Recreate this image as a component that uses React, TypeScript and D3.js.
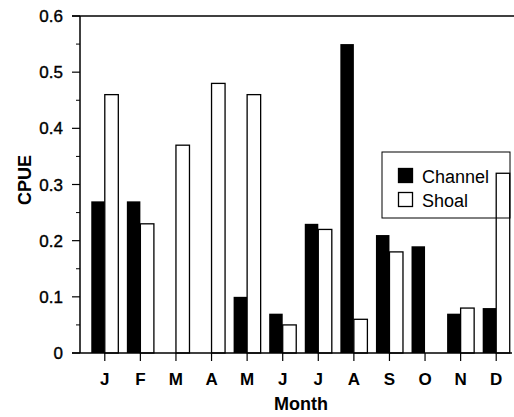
import { useEffect, useRef } from "react";
import * as d3 from "d3";

const months = ["J", "F", "M", "A", "M", "J", "J", "A", "S", "O", "N", "D"];
const channel = [0.27, 0.27, 0, 0, 0.1, 0.07, 0.23, 0.55, 0.21, 0.19, 0.07, 0.08];
const shoal = [0.46, 0.23, 0.37, 0.48, 0.46, 0.05, 0.22, 0.06, 0.18, 0, 0.08, 0.32];
const yTicks = [0, 0.1, 0.2, 0.3, 0.4, 0.5, 0.6];

const width = 514;
const height = 417;
const font = "Liberation Sans, Arial, sans-serif";

export default function App() {
  const ref = useRef<HTMLDivElement | null>(null);

  useEffect(() => {
    if (!ref.current) return;
    d3.select(ref.current).selectAll("svg").remove();

    const svg = d3
      .select(ref.current)
      .append("svg")
      .attr("width", width)
      .attr("height", height)
      .style("display", "block");

    const left = 80;
    const y = d3.scaleLinear([0, 0.6], [353, 16]);
    const x = d3
      .scaleBand<number>()
      .domain(d3.range(months.length))
      .range([87, 514])
      .paddingInner(0.24)
      .paddingOuter(0.12);
    const half = x.bandwidth() / 2;

    // frame: left axis and top line
    svg
      .append("line")
      .attr("x1", left)
      .attr("x2", left)
      .attr("y1", y(0.6))
      .attr("y2", y(0))
      .attr("stroke", "#000")
      .attr("stroke-width", 1.5);
    svg
      .append("line")
      .attr("x1", left - 8)
      .attr("x2", width)
      .attr("y1", y(0.6))
      .attr("y2", y(0.6))
      .attr("stroke", "#000")
      .attr("stroke-width", 1.5);

    // y ticks
    const yg = svg.append("g");
    yg.selectAll("line.major")
      .data(yTicks)
      .enter()
      .append("line")
      .attr("x1", left - 8)
      .attr("x2", left)
      .attr("y1", (d) => y(d))
      .attr("y2", (d) => y(d))
      .attr("stroke", "#000")
      .attr("stroke-width", 1.2);
    yg.selectAll("line.minor")
      .data(yTicks.slice(0, -1).map((d) => d + 0.05))
      .enter()
      .append("line")
      .attr("x1", left - 4)
      .attr("x2", left)
      .attr("y1", (d) => y(d))
      .attr("y2", (d) => y(d))
      .attr("stroke", "#000")
      .attr("stroke-width", 1);
    yg.selectAll("text")
      .data(yTicks)
      .enter()
      .append("text")
      .attr("x", 63)
      .attr("y", (d) => y(d) + 6)
      .attr("text-anchor", "end")
      .attr("font-family", font)
      .attr("font-size", 17)
      .attr("stroke", "#000")
      .attr("stroke-width", 0.4)
      .text((d) => (d === 0 ? "0" : d.toFixed(1)));

    // bars
    const bars = svg.append("g");
    bars
      .selectAll("rect.channel")
      .data(channel)
      .enter()
      .append("rect")
      .attr("x", (_, i) => x(i)!)
      .attr("y", (d) => y(d))
      .attr("width", half)
      .attr("height", (d) => y(0) - y(d))
      .attr("fill", "#000");
    bars
      .selectAll("rect.shoal")
      .data(shoal)
      .enter()
      .append("rect")
      .attr("x", (_, i) => x(i)! + half)
      .attr("y", (d) => y(d))
      .attr("width", half)
      .attr("height", (d) => y(0) - y(d))
      .attr("fill", "#fff")
      .attr("stroke", "#000")
      .attr("stroke-width", 1.3);

    // x axis
    svg
      .append("line")
      .attr("x1", left - 8)
      .attr("x2", width - 2)
      .attr("y1", y(0))
      .attr("y2", y(0))
      .attr("stroke", "#000")
      .attr("stroke-width", 1.5);
    const xg = svg.append("g");
    xg.selectAll("line")
      .data(months.map((_, i) => i))
      .enter()
      .append("line")
      .attr("x1", (i) => x(i)! + half)
      .attr("x2", (i) => x(i)! + half)
      .attr("y1", y(0))
      .attr("y2", y(0) + 8)
      .attr("stroke", "#000")
      .attr("stroke-width", 1.2);
    xg.selectAll("text")
      .data(months)
      .enter()
      .append("text")
      .attr("x", (_, i) => x(i)! + half)
      .attr("y", 385)
      .attr("text-anchor", "middle")
      .attr("font-family", font)
      .attr("font-size", 17)
      .attr("font-weight", "bold")
      .text((d) => d);

    // axis titles
    svg
      .append("text")
      .attr("x", 301)
      .attr("y", 410)
      .attr("text-anchor", "middle")
      .attr("font-family", font)
      .attr("font-size", 18)
      .attr("font-weight", "bold")
      .text("Month");
    svg
      .append("text")
      .attr("transform", "translate(31,180) rotate(-90)")
      .attr("text-anchor", "middle")
      .attr("font-family", font)
      .attr("font-size", 18)
      .attr("font-weight", "bold")
      .text("CPUE");

    // legend
    const lg = svg.append("g").attr("transform", "translate(382,152)");
    lg.append("rect")
      .attr("width", 128)
      .attr("height", 66)
      .attr("fill", "none")
      .attr("stroke", "#000")
      .attr("stroke-width", 1);
    const items = [
      { label: "Channel", fill: "#000" },
      { label: "Shoal", fill: "#fff" },
    ];
    items.forEach((it, i) => {
      lg.append("rect")
        .attr("x", 16.5)
        .attr("y", 16.5 + i * 24)
        .attr("width", 14)
        .attr("height", 14)
        .attr("fill", it.fill)
        .attr("stroke", "#000")
        .attr("stroke-width", 1.3);
      lg.append("text")
        .attr("x", 40)
        .attr("y", 31 + i * 24)
        .attr("font-family", font)
        .attr("font-size", 18)
        .text(it.label);
    });
  }, []);

  return (
    <div
      ref={ref}
      style={{
        position: "fixed",
        left: 0,
        top: 0,
        width,
        height,
        overflow: "hidden",
        background: "#fff",
      }}
    />
  );
}
